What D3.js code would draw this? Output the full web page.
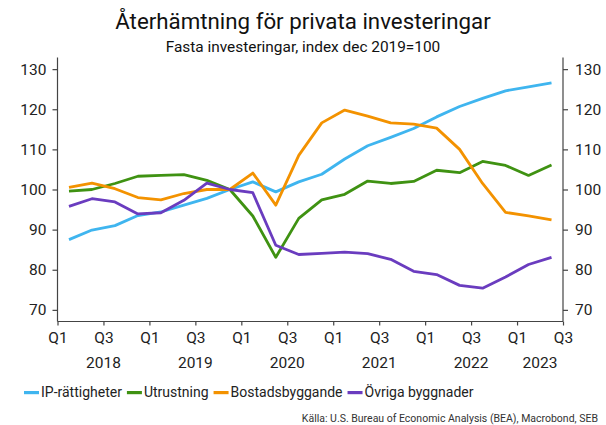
<!DOCTYPE html>
<html><head><meta charset="utf-8">
<script src="https://cdn.jsdelivr.net/npm/d3@7"></script>
<style>
body{margin:0;background:#fff;}
svg{display:block;font-family:"Roboto",sans-serif;}
</style></head><body>
<svg id="c" width="606" height="425"></svg>
<script>
const quarters = ["2018Q1","2018Q2","2018Q3","2018Q4","2019Q1","2019Q2","2019Q3","2019Q4","2020Q1","2020Q2","2020Q3","2020Q4","2021Q1","2021Q2","2021Q3","2021Q4","2022Q1","2022Q2","2022Q3","2022Q4","2023Q1","2023Q2"];
const ipRights = [87.5,89.9,91.0,93.5,94.4,96.1,97.8,100,101.9,99.4,101.9,103.8,107.6,110.9,113.0,115.2,118.1,120.7,122.7,124.6,125.6,126.6];
const equipment = [99.6,100,101.5,103.3,103.5,103.7,102.3,100,93.4,83.1,92.8,97.4,98.8,102.1,101.5,102.0,104.8,104.2,107.0,106.0,103.5,106.1];
const residential = [100.5,101.6,100.2,98.0,97.4,99.0,100,100,104.1,96.1,108.5,116.6,119.8,118.3,116.6,116.3,115.3,110.0,101.5,94.3,93.4,92.4];
const otherStructures = [95.8,97.7,96.9,93.9,94.2,97.3,101.6,100,99.2,86.1,83.8,84.1,84.4,84.0,82.6,79.6,78.8,76.1,75.4,78.2,81.3,83.1];
const seriesNames = ["IP-rättigheter","Utrustning","Bostadsbyggande","Övriga byggnader"];
const seriesColors = ["#3fb5ef","#3f9212","#f39200","#6a3cbf"];
const yTicks = [70,80,90,100,110,120,130];
const xTickLabels = ["Q1","Q3","Q1","Q3","Q1","Q3","Q1","Q3","Q1","Q3","Q1","Q3"];
const yearLabels = ["2018","2019","2020","2021","2022","2023"];
const title = "Återhämtning för privata investeringar";
const subtitle = "Fasta investeringar, index dec 2019=100";
const source = "Källa: U.S. Bureau of Economic Analysis (BEA), Macrobond, SEB";

const allSeries = [ipRights, equipment, residential, otherStructures];
const svg = d3.select("#c");
const L = 57.5, R = 563, T = 57.5, B = 321.5;
const x = d3.scaleLinear().domain([0, 22]).range([L, R]);
const y = d3.scaleLinear().domain([67.1, 132.9]).range([B, T]);
const axisColor = "#444";
const fnt = '"Roboto",sans-serif';

svg.append("text").attr("x",303).attr("y",29).attr("text-anchor","middle")
  .attr("font-size",22.3).attr("fill","#111").text(title);
svg.append("text").attr("x",303).attr("y",52).attr("text-anchor","middle")
  .attr("font-size",15.4).attr("fill","#111").text(subtitle);

// y axes
const yl = svg.append("g").attr("transform",`translate(${L},0)`)
  .call(d3.axisLeft(y).tickValues(yTicks).tickSize(5).tickPadding(6));
const yr = svg.append("g").attr("transform",`translate(${R},0)`)
  .call(d3.axisRight(y).tickValues(yTicks).tickSize(5).tickPadding(7));
// x axis
const xt = d3.range(0, 23, 2);
const xa = svg.append("g").attr("transform",`translate(0,${B})`)
  .call(d3.axisBottom(x).tickValues(xt).tickSize(4).tickPadding(6).tickFormat((d,i)=>xTickLabels[i]));
[yl,yr,xa].forEach(g=>{
  g.select(".domain").attr("stroke",axisColor).attr("stroke-width",1.2);
  g.selectAll(".tick line").attr("stroke",axisColor).attr("stroke-width",1.2);
  g.selectAll("text").attr("font-size",15.5).attr("fill","#222").attr("font-family",fnt);
});
yl.select(".domain").attr("d",`M0,${T}V${B}`);
yr.select(".domain").attr("d",`M0,${T}V${B}`);
xa.select(".domain").attr("d",`M${L},0H${R}`);
// year labels
const yearPos = [2,6,10,14,18,21];
svg.append("g").selectAll("text").data(yearLabels).join("text")
  .attr("x",(d,i)=>x(yearPos[i])).attr("y",368).attr("text-anchor","middle")
  .attr("font-size",15.5).attr("fill","#222").text(d=>d);

// lines
const line = d3.line().x((d,i)=>x(i+0.5)).y(d=>y(d));
svg.append("g").selectAll("path").data(allSeries).join("path")
  .attr("d",line).attr("fill","none").attr("stroke",(d,i)=>seriesColors[i])
  .attr("stroke-width",2.8).attr("stroke-linejoin","round");

// legend
const lg = svg.append("g").attr("transform","translate(24,397)");
let lx = 0;
seriesNames.forEach((n,i)=>{
  lg.append("rect").attr("x",lx).attr("y",-6).attr("width",15).attr("height",3.2).attr("fill",seriesColors[i]);
  const t = lg.append("text").attr("x",lx+17).attr("y",0).attr("font-size",14).attr("fill","#222").text(n);
  lx += 17 + t.node().getComputedTextLength() + 5;
});

svg.append("text").attr("x",598).attr("y",422).attr("text-anchor","end")
  .attr("font-size",10.5).attr("fill","#333").text(source);
</script></body></html>
